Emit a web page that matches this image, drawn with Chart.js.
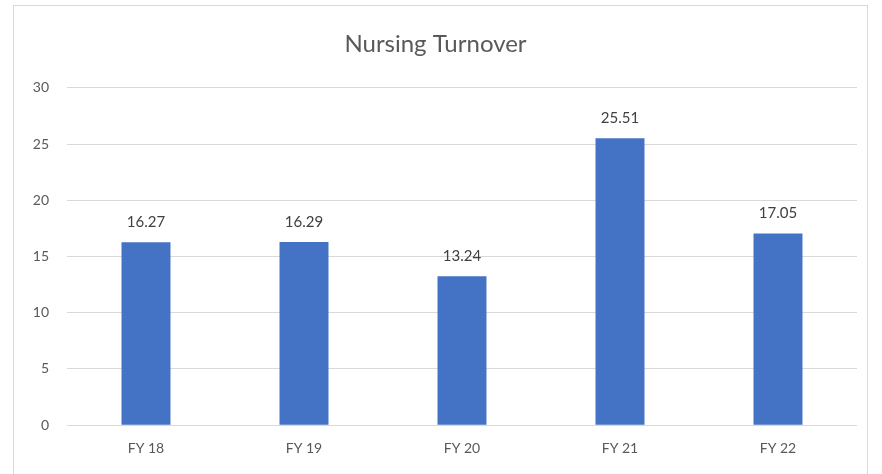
<!DOCTYPE html>
<html>
<head>
<meta charset="utf-8">
<script src="https://cdn.jsdelivr.net/npm/chart.js"></script>
<style>
  body { margin: 0; background: #fff; }
  #box {
    position: absolute; left: 13px; top: 5px;
    width: 855px; height: 469px;
    border: 1px solid #d9d9d9; border-bottom: none; box-sizing: border-box;
  }
  canvas { display: block; }
</style>
</head>
<body>
<div id="box"><canvas id="chart" width="855" height="466"></canvas></div>
<script>
const categories = ["FY 18", "FY 19", "FY 20", "FY 21", "FY 22"];
const turnover = [16.27, 16.29, 13.24, 25.51, 17.05];
const yTicks = [0, 5, 10, 15, 20, 25, 30];

const FONT = "Lato, 'Open Sans', sans-serif";

// value labels above each bar
const barLabels = {
  id: "barLabels",
  afterDatasetsDraw(chart) {
    const ctx = chart.ctx;
    const meta = chart.getDatasetMeta(0);
    ctx.save();
    ctx.font = "15px " + FONT;
    ctx.fillStyle = "#404040";
    ctx.textAlign = "center";
    ctx.textBaseline = "middle";
    meta.data.forEach((bar, i) => {
      ctx.fillText(turnover[i].toFixed(2), bar.x, bar.y - 20);
    });
    ctx.restore();
  }
};

const ctx = document.getElementById("chart").getContext("2d");
new Chart(ctx, {
  type: "bar",
  data: {
    labels: categories,
    datasets: [{
      label: "Nursing Turnover",
      data: turnover,
      backgroundColor: "#4472C4",
      categoryPercentage: 1,
      barPercentage: 0.31
    }]
  },
  options: {
    responsive: false,
    animation: false,
    layout: { padding: { left: 0, right: 12, top: 0, bottom: 0 } },
    plugins: {
      legend: { display: false },
      tooltip: { enabled: false },
      title: {
        display: true,
        text: "Nursing Turnover",
        color: "#595959",
        font: { family: FONT, size: 24, weight: "normal" },
        padding: { top: 24, bottom: 29 }
      }
    },
    scales: {
      x: {
        grid: { display: false, drawTicks: false },
        border: { display: false },
        ticks: { color: "#595959", font: { family: FONT, size: 14 }, padding: 15 }
      },
      y: {
        min: 0,
        max: 30,
        afterBuildTicks(axis) { axis.ticks = yTicks.map(v => ({ value: v })); },
        afterFit(axis) { axis.width = 53; },
        grid: { color: "#d9d9d9", drawTicks: false },
        border: { display: false },
        ticks: { color: "#595959", font: { family: FONT, size: 14 }, padding: 18 }
      }
    }
  },
  plugins: [barLabels]
});
</script>
</body>
</html>
